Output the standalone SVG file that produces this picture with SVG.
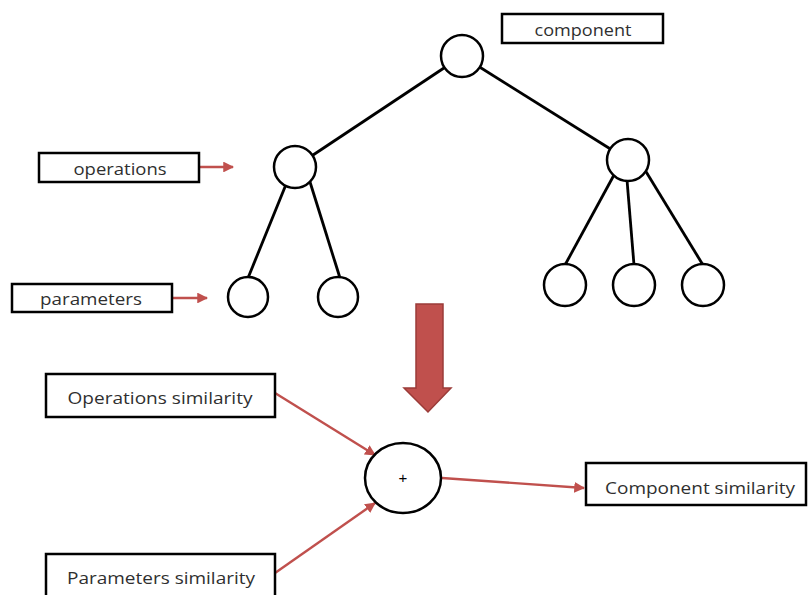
<svg xmlns="http://www.w3.org/2000/svg" width="808" height="595" viewBox="0 0 808 595">
  <defs>
    <marker id="ah" viewBox="0 0 10 10" refX="9" refY="5" markerWidth="4.5" markerHeight="4.5" orient="auto" markerUnits="strokeWidth">
      <path d="M0,0 L10,5 L0,10 z" fill="#c0504d"/>
    </marker>
    <style>
      .box { fill: #fff; stroke: #000; stroke-width: 2.5; }
      .lbl { font-family: "Open Sans", "Liberation Sans", sans-serif; font-size: 16.5px; fill: #2f2f2f; text-anchor: middle; dominant-baseline: central; }
      .node { fill: #fff; stroke: #000; stroke-width: 2.5; }
      .edge { stroke: #000; stroke-width: 2.8; fill: none; }
      .ptr { stroke: #c0504d; stroke-width: 2.4; fill: none; marker-end: url(#ah); }
    </style>
  </defs>
  <rect width="808" height="595" fill="#fff"/>

  <!-- tree edges and pointer arrows -->
  <g id="connectors">
    <line class="edge" x1="462" y1="56" x2="295" y2="167"/>
    <line class="edge" x1="462" y1="56" x2="628" y2="160"/>
    <line class="edge" x1="287" y1="182" x2="248" y2="278"/>
    <line class="edge" x1="310" y1="182" x2="340" y2="278"/>
    <line class="edge" x1="614" y1="175" x2="565" y2="265"/>
    <line class="edge" x1="627" y1="180" x2="634" y2="265"/>
    <line class="edge" x1="645" y1="170" x2="703" y2="265"/>
    <line class="ptr" x1="199" y1="167" x2="233" y2="167"/>
    <line class="ptr" x1="172" y1="298" x2="207" y2="298"/>
    <line class="ptr" x1="275" y1="393" x2="375" y2="455"/>
    <line class="ptr" x1="275" y1="573" x2="375" y2="503"/>
    <line class="ptr" x1="442" y1="478" x2="584" y2="488"/>
    <!-- big downward arrow -->
    <path d="M416,304 H443 V388 H451 L428,412 L404,388 H416 Z" fill="#c0504d" stroke="#9b3b38" stroke-width="1.5"/>
  </g>

  <!-- tree nodes -->
  <g id="root"><circle class="node" cx="462" cy="56" r="21"/></g>
  <g id="op-left"><circle class="node" cx="295" cy="167" r="21"/></g>
  <g id="op-right"><circle class="node" cx="628" cy="160" r="21"/></g>
  <g id="leaf-1"><circle class="node" cx="248" cy="297" r="20"/></g>
  <g id="leaf-2"><circle class="node" cx="338" cy="297" r="20"/></g>
  <g id="leaf-3"><circle class="node" cx="565" cy="285" r="21"/></g>
  <g id="leaf-4"><circle class="node" cx="634" cy="285" r="21"/></g>
  <g id="leaf-5"><circle class="node" cx="703" cy="285" r="21"/></g>

  <!-- labels -->
  <g id="component-label">
    <rect class="box" x="502" y="14" width="161" height="29"/>
    <text class="lbl" x="583" y="29" textLength="97" lengthAdjust="spacingAndGlyphs">component</text>
  </g>
  <g id="operations-label">
    <rect class="box" x="39" y="153" width="160" height="29"/>
    <text class="lbl" x="120" y="168" textLength="93" lengthAdjust="spacingAndGlyphs">operations</text>
  </g>
  <g id="parameters-label">
    <rect class="box" x="12" y="284" width="160" height="28"/>
    <text class="lbl" x="91" y="298" textLength="102" lengthAdjust="spacingAndGlyphs">parameters</text>
  </g>

  <!-- similarity combination -->
  <g id="ops-sim">
    <rect class="box" x="46" y="374" width="229" height="43"/>
    <text class="lbl" x="160" y="397" textLength="185" lengthAdjust="spacingAndGlyphs">Operations similarity</text>
  </g>
  <g id="params-sim">
    <rect class="box" x="46" y="554" width="229" height="50"/>
    <text class="lbl" x="161" y="577" textLength="188" lengthAdjust="spacingAndGlyphs">Parameters similarity</text>
  </g>
  <g id="sum">
    <ellipse class="node" cx="403" cy="478" rx="38" ry="35"/>
    <text x="403" y="477" font-family="Liberation Sans, sans-serif" font-size="15" fill="#000" text-anchor="middle" dominant-baseline="central">+</text>
  </g>
  <g id="comp-sim">
    <rect class="box" x="586" y="463" width="220" height="42"/>
    <text class="lbl" x="700" y="487" textLength="190" lengthAdjust="spacingAndGlyphs">Component similarity</text>
  </g>
</svg>
